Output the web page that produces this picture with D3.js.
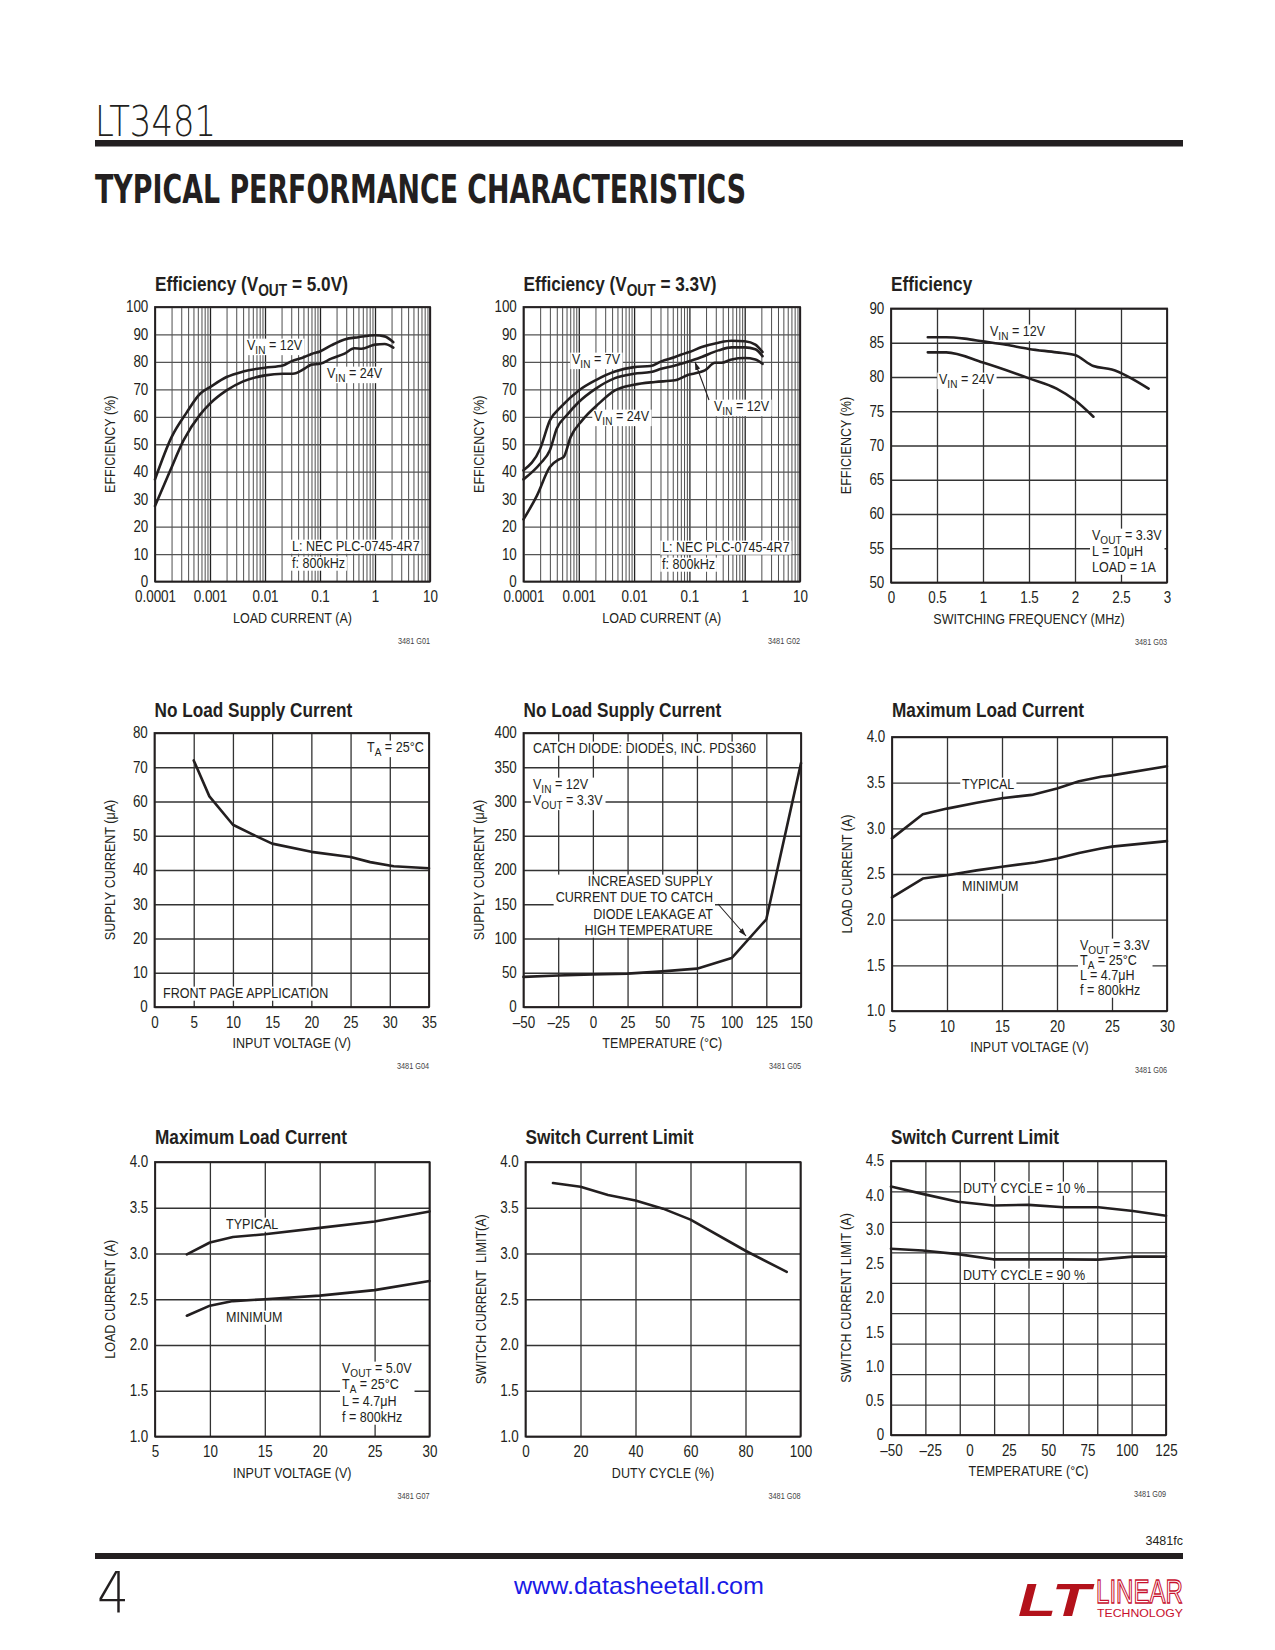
<!DOCTYPE html>
<html><head><meta charset="utf-8">
<script src="https://cdn.jsdelivr.net/npm/d3@7/dist/d3.min.js"></script>
<style>
html,body{margin:0;padding:0;background:#fff;}
svg{display:block;}
text{font-family:"Liberation Sans",Arial,sans-serif;}
</style></head><body>
<svg id="page" width="1275" height="1650"></svg>
<script>
// ---------------- DATA ----------------
// Efficiency, VOUT = 5.0V (load current A, efficiency %)
const eff5_12V_current = [0.0001,0.0002,0.00038,0.00066,0.001,0.002,0.004,0.01,0.021,0.03,0.052,0.07,0.1,0.16,0.28,0.5,1,1.5,2.15];
const eff5_12V_eff     = [37.2,52.6,61.7,68.4,70.8,74.5,76.5,77.9,78.7,80.2,81.8,82.9,83.8,86,88.2,89,89.7,89.3,87.2];
const eff5_24V_current = [0.0001,0.00019,0.00033,0.00066,0.001,0.002,0.004,0.01,0.021,0.032,0.052,0.07,0.1,0.16,0.28,0.42,0.57,1,1.5,2.15];
const eff5_24V_eff     = [27.5,40.5,51.4,60.8,64.8,69.6,72.9,75.1,75.7,75.7,77.5,79,79.3,81.2,83,85,84.8,86.3,86.5,85.2];
// Efficiency, VOUT = 3.3V
const eff33_7V_current  = [0.0001,0.0002,0.0003,0.00047,0.001,0.002,0.0045,0.01,0.02,0.031,0.055,0.07,0.1,0.167,0.335,0.58,1,1.56,2.1];
const eff33_7V_eff      = [40.5,48.4,58.7,63.5,69.6,73.3,76.5,78.1,78.5,80.2,81.8,82.6,83.6,85.4,87,87.7,87.5,86.3,83.6];
const eff33_12V_current = [0.0001,0.0002,0.0003,0.0004,0.00062,0.001,0.002,0.0045,0.01,0.02,0.031,0.055,0.1,0.167,0.335,0.58,1,1.56,2.1];
const eff33_12V_eff     = [37.2,42.9,47.8,55.7,60.8,65.4,70.2,74.1,75.7,76.3,77.5,78.7,80.2,81.8,84.2,85.3,85.3,84.6,82.1];
const eff33_24V_current = [0.0001,0.000175,0.0003,0.00044,0.00053,0.00071,0.00115,0.0023,0.0045,0.01,0.024,0.055,0.096,0.145,0.19,0.29,0.38,0.58,1,1.56,2.1];
const eff33_24V_eff     = [22.6,31.3,41.7,44.5,45.3,52.6,58.7,64.8,69.6,71.7,72.7,73.3,75.3,76.1,76.9,79.7,79.7,80.9,81.4,80.9,79.3];
// Efficiency vs switching frequency (MHz)
const effF_12V_freq = [0.4,0.6,0.8,1.0,1.25,1.5,1.8,2.0,2.2,2.4,2.8];
const effF_12V_eff  = [85.8,85.8,85.6,85.2,84.7,84.1,83.6,83.2,81.6,81.1,78.3];
const effF_24V_freq = [0.4,0.6,1.0,1.5,1.8,2.0,2.2];
const effF_24V_eff  = [83.6,83.6,82.1,79.8,78.3,76.6,74.2];
// No load supply current vs input voltage
const nlVin_voltage = [5,7,10,12.5,15,20,25,27.5,30.5,35];
const nlVin_current = [72,61.5,53.2,50.4,47.7,45.3,43.8,42.3,41.1,40.5];
// No load supply current vs temperature
const nlTemp_temp    = [-50,-25,0,25,50,75,100,125,150];
const nlTemp_current = [44,46,47.7,48.7,52,56,71.5,128,356];
// Maximum load current, VOUT = 3.3V
const mlc33_vin     = [5,7.8,10,12.7,15,17.7,20,22,24,25,30];
const mlc33_typical = [2.89,3.155,3.216,3.28,3.33,3.366,3.435,3.515,3.565,3.58,3.68];
const mlc33_vinMin  = [5,7.8,10,12.7,15,18,20,22,24,25,30];
const mlc33_minimum = [2.243,2.45,2.487,2.54,2.58,2.626,2.67,2.73,2.78,2.8,2.86];
// Maximum load current, VOUT = 5.0V
const mlc5_vin     = [7.9,10,12.1,15,20,25,30];
const mlc5_typical = [2.99,3.12,3.18,3.21,3.28,3.35,3.46];
const mlc5_minimum = [2.32,2.43,2.48,2.50,2.54,2.60,2.70];
// Switch current limit vs duty cycle
const sclDuty_duty  = [10,20,30,40,50,60,80,95];
const sclDuty_limit = [3.77,3.73,3.64,3.58,3.49,3.37,3.03,2.80];
// Switch current limit vs temperature
const sclTemp_temp = [-50,-30,-7.5,15,37.5,60,82,104,125];
const sclTemp_dc10 = [4.08,3.96,3.83,3.77,3.78,3.74,3.74,3.68,3.60];
const sclTemp_dc90 = [3.06,3.03,2.97,2.885,2.885,2.885,2.88,2.93,2.93];

// Tick labels
const loadTicks = [0.0001,0.001,0.01,0.1,1,10];
const loadTickLabels = ["0.0001","0.001","0.01","0.1","1","10"];
const effTicks = d3.range(0,101,10);
const effTickLabels = effTicks.map(String);
const freqTicks = [0,0.5,1,1.5,2,2.5,3];
const freqTickLabels = ["0","0.5","1","1.5","2","2.5","3"];
const effFTicks = [50,55,60,65,70,75,80,85,90];
const effFTickLabels = effFTicks.map(String);
const vin35Ticks = [0,5,10,15,20,25,30,35];
const vin35TickLabels = vin35Ticks.map(String);
const supplyTicks = [0,10,20,30,40,50,60,70,80];
const supplyTickLabels = supplyTicks.map(String);
const temp150Ticks = [-50,-25,0,25,50,75,100,125,150];
const temp150TickLabels = ["–50","–25","0","25","50","75","100","125","150"];
const supply400Ticks = [0,50,100,150,200,250,300,350,400];
const supply400TickLabels = supply400Ticks.map(String);
const vin30Ticks = [5,10,15,20,25,30];
const vin30TickLabels = vin30Ticks.map(String);
const amp4Ticks = [1,1.5,2,2.5,3,3.5,4];
const amp4TickLabels = ["1.0","1.5","2.0","2.5","3.0","3.5","4.0"];
const dutyTicks = [0,20,40,60,80,100];
const dutyTickLabels = dutyTicks.map(String);
const temp125Ticks = [-50,-25,0,25,50,75,100,125];
const temp125TickLabels = ["–50","–25","0","25","50","75","100","125"];
const scl9TickLabels = ["0","0.5","1.0","1.5","2.0","2.5","3.0","4.0","4.5"];

// ---------------- DRAWING ----------------
const INK = "#231f20";
const NARROW = 0.86;
const svg = d3.select("#page");
const defs = svg.append("defs");
defs.append("marker").attr("id","arr").attr("viewBox","0 0 10 10")
  .attr("refX",10).attr("refY",5).attr("markerWidth",8).attr("markerHeight",8)
  .attr("orient","auto").attr("markerUnits","userSpaceOnUse")
  .append("path").attr("d","M0,1.8 L10,5 L0,8.2 z").attr("fill",INK);

function rich(parent, str, x, y, o) {
  o = o || {};
  const size = o.size || 14.6;
  const wrap = parent.append("g").attr("transform",
    `translate(${x},${y})` + (o.rotate ? ` rotate(${o.rotate})` : "") + ` scale(${NARROW},1)`);
  const t = wrap.append("text").attr("x", 0).attr("y", o.dy || 0).attr("font-size", size)
    .attr("text-anchor", o.anchor || "start").attr("fill", o.fill || INK);
  if (o.weight) t.attr("font-weight", o.weight);
  const parts = str.split(/(_\{[^}]*\})/).filter(s => s.length);
  let down = false;
  parts.forEach(p => {
    if (p.startsWith("_{")) {
      t.append("tspan").attr("dy", size*0.24).attr("font-size", size*0.8).text(p.slice(2,-1));
      down = true;
    } else {
      const ts = t.append("tspan").text(p);
      if (down) { ts.attr("dy", -size*0.24); down = false; }
    }
  });
  if (o.bg) {
    const b = t.node().getBBox();
    wrap.insert("rect", "text").attr("x", b.x-2).attr("y", b.y+1.5)
      .attr("width", b.width+4).attr("height", b.height-2).attr("fill","#fff");
  }
  return t;
}

function isDecade(d){ const l = Math.log10(d); return Math.abs(l-Math.round(l))<1e-6; }

function drawChart(c) {
  const g = svg.append("g");
  const x = (c.xLog ? d3.scaleLog() : d3.scaleLinear()).domain(c.xDomain).range([c.L, c.R]);
  const y = d3.scaleLinear().domain(c.yDomain).range([c.B, c.T]);
  const W = c.R - c.L, H = c.B - c.T;
  // grid
  const gx = g.append("g").attr("transform",`translate(0,${c.B})`)
    .call(d3.axisBottom(x).tickValues(c.xGrid).tickSize(-H).tickFormat(""));
  gx.select(".domain").remove();
  gx.selectAll(".tick line")
    .attr("stroke", d => c.xLog ? (isDecade(d) ? "#222" : "#3a3a3a") : "#333")
    .attr("stroke-width", d => c.xLog ? (isDecade(d) ? 1.3 : 0.9) : 1.3);
  const gy = g.append("g").attr("transform",`translate(${c.L},0)`)
    .call(d3.axisLeft(y).tickValues(c.yGrid).tickSize(-W).tickFormat(""));
  gy.select(".domain").remove();
  gy.selectAll(".tick line").attr("stroke", c.xLog ? "#555" : "#333").attr("stroke-width", 1.3);
  // notes (single labels get their own white box, blocks share one box)
  const bgLayer = g.append("g");
  const noteLayer = g.append("g");
  const blocks = {};
  (c.notes || []).forEach(n => {
    const t = rich(noteLayer, n.t, n.x, n.y, {anchor: n.a, bg: !n.b});
    if (n.b) (blocks[n.b] = blocks[n.b] || []).push(t.node());
  });
  Object.values(blocks).forEach(nodes => {
    const rs = nodes.map(nd => nd.getBoundingClientRect());
    const x0 = d3.min(rs, r => r.left) - 2, x1 = d3.max(rs, r => r.right) + 2;
    const y0 = d3.min(rs, r => r.top) + 1.5, y1 = d3.max(rs, r => r.bottom) - 0.5;
    bgLayer.append("rect").attr("x", x0).attr("y", y0).attr("width", x1 - x0).attr("height", y1 - y0).attr("fill", "#fff");
  });
  (c.arrows || []).forEach(a => g.append("line").attr("x1",a[0]).attr("y1",a[1]).attr("x2",a[2]).attr("y2",a[3])
    .attr("stroke",INK).attr("stroke-width",1.1).attr("marker-end","url(#arr)"));
  // series
  const line = d3.line().x(d => x(d[0])).y(d => y(d[1]))
    .curve(c.smooth ? d3.curveMonotoneX : d3.curveLinear);
  c.series.forEach(s => g.append("path").datum(d3.zip(s[0], s[1])).attr("d", line)
    .attr("fill","none").attr("stroke",INK).attr("stroke-width",2.6)
    .attr("stroke-linejoin","round").attr("stroke-linecap","round"));
  // frame
  g.append("rect").attr("x",c.L).attr("y",c.T).attr("width",W).attr("height",H)
    .attr("fill","none").attr("stroke",INK).attr("stroke-width",1.8);
  // tick labels
  const ax = g.append("g").attr("transform",`translate(0,${c.B})`)
    .call(d3.axisBottom(x).tickValues(c.xTicks).tickFormat((d,i) => c.xLabels[i]).tickSize(0).tickPadding(9.5));
  ax.select(".domain").remove();
  ax.selectAll("text").attr("font-size",15.6).attr("fill",INK).attr("transform",`scale(${NARROW},1)`);
  const ay = g.append("g").attr("transform",`translate(${c.L},0)`)
    .call(d3.axisLeft(y).tickValues(c.yTicks).tickFormat((d,i) => c.yLabels[i]).tickSize(0).tickPadding(7.8));
  ay.select(".domain").remove();
  ay.selectAll("text").attr("font-size",15.6).attr("fill",INK).attr("transform",`scale(${NARROW},1)`);
  // titles
  rich(g, c.title, c.L, c.titleY, {size: 20, weight: "bold"});
  rich(g, c.xTitle, (c.L + c.R)/2, c.B + 41, {anchor: "middle"});
  rich(g, c.yTitle, c.L - 45, (c.T + c.B)/2, {anchor: "middle", rotate: -90, dy: 5});
  rich(g, c.code, c.R, c.B + 62, {anchor: "end", size: 8.5, fill: "#444"});
}

const logGrid = [];
for (let n = -4; n <= 0; n++) for (let k = 1; k <= 9; k++) logGrid.push(+(k*Math.pow(10,n)).toPrecision(6));
logGrid.push(10);

const charts = [
  { L:155, R:430, T:307, B:581.5, titleY:291, title:"Efficiency (V_{OUT} = 5.0V)", code:"3481 G01",
    xLog:true, xDomain:[1e-4,10], yDomain:[0,100], xGrid:logGrid, yGrid:effTicks,
    xTicks:loadTicks, xLabels:loadTickLabels, yTicks:effTicks, yLabels:effTickLabels,
    xTitle:"LOAD CURRENT (A)", yTitle:"EFFICIENCY (%)", smooth:true,
    series:[[eff5_12V_current, eff5_12V_eff],[eff5_24V_current, eff5_24V_eff]],
    notes:[{t:"V_{IN} = 12V",x:247,y:350},{t:"V_{IN} = 24V",x:327,y:378},
           {t:"L: NEC PLC-0745-4R7",x:292,y:551},{t:"f: 800kHz",x:292,y:568}] },
  { L:523.5, R:800, T:307, B:581.5, titleY:291, title:"Efficiency (V_{OUT} = 3.3V)", code:"3481 G02",
    xLog:true, xDomain:[1e-4,10], yDomain:[0,100], xGrid:logGrid, yGrid:effTicks,
    xTicks:loadTicks, xLabels:loadTickLabels, yTicks:effTicks, yLabels:effTickLabels,
    xTitle:"LOAD CURRENT (A)", yTitle:"EFFICIENCY (%)", smooth:true,
    series:[[eff33_7V_current, eff33_7V_eff],[eff33_12V_current, eff33_12V_eff],[eff33_24V_current, eff33_24V_eff]],
    notes:[{t:"V_{IN} = 7V",x:572,y:364},{t:"V_{IN} = 24V",x:594,y:421},{t:"V_{IN} = 12V",x:714,y:411},
           {t:"L: NEC PLC-0745-4R7",x:662,y:552},{t:"f: 800kHz",x:662,y:569}],
    arrows:[[709,400,695,362]] },
  { L:891, R:1167, T:308.5, B:582.5, titleY:291, title:"Efficiency", code:"3481 G03",
    xDomain:[0,3], yDomain:[50,90], xGrid:freqTicks, yGrid:effFTicks,
    xTicks:freqTicks, xLabels:freqTickLabels, yTicks:effFTicks, yLabels:effFTickLabels,
    xTitle:"SWITCHING FREQUENCY (MHz)", yTitle:"EFFICIENCY (%)", smooth:true,
    series:[[effF_12V_freq, effF_12V_eff],[effF_24V_freq, effF_24V_eff]],
    notes:[{t:"V_{IN} = 12V",x:990,y:336},{t:"V_{IN} = 24V",x:939,y:384},
           {t:"V_{OUT} = 3.3V",x:1092,y:540,b:1},{t:"L = 10μH",x:1092,y:556,b:1},{t:"LOAD = 1A",x:1092,y:572,b:1}] },
  { L:154.5, R:429, T:733, B:1007, titleY:717, title:"No Load Supply Current", code:"3481 G04",
    xDomain:[0,35], yDomain:[0,80], xGrid:vin35Ticks, yGrid:supplyTicks,
    xTicks:vin35Ticks, xLabels:vin35TickLabels, yTicks:supplyTicks, yLabels:supplyTickLabels,
    xTitle:"INPUT VOLTAGE (V)", yTitle:"SUPPLY CURRENT (μA)",
    series:[[nlVin_voltage, nlVin_current]],
    notes:[{t:"T_{A} = 25°C",x:367,y:752},{t:"FRONT PAGE APPLICATION",x:163,y:998}] },
  { L:523.5, R:801, T:733, B:1007, titleY:717, title:"No Load Supply Current", code:"3481 G05",
    xDomain:[-50,150], yDomain:[0,400], xGrid:temp150Ticks, yGrid:supply400Ticks,
    xTicks:temp150Ticks, xLabels:temp150TickLabels, yTicks:supply400Ticks, yLabels:supply400TickLabels,
    xTitle:"TEMPERATURE (°C)", yTitle:"SUPPLY CURRENT (μA)",
    series:[[nlTemp_temp, nlTemp_current]],
    notes:[{t:"CATCH DIODE: DIODES, INC. PDS360",x:533,y:753},
           {t:"V_{IN} = 12V",x:533,y:789,b:1},{t:"V_{OUT} = 3.3V",x:533,y:805,b:1},
           {t:"INCREASED SUPPLY",x:713,y:886,a:"end",b:2},{t:"CURRENT DUE TO CATCH",x:713,y:902,a:"end",b:2},
           {t:"DIODE LEAKAGE AT",x:713,y:919,a:"end",b:2},{t:"HIGH TEMPERATURE",x:713,y:935,a:"end",b:2}],
    arrows:[[718,904,746,936]] },
  { L:892, R:1167, T:737, B:1011, titleY:717, title:"Maximum Load Current", code:"3481 G06",
    xDomain:[5,30], yDomain:[1,4], xGrid:vin30Ticks, yGrid:amp4Ticks,
    xTicks:vin30Ticks, xLabels:vin30TickLabels, yTicks:amp4Ticks, yLabels:amp4TickLabels,
    xTitle:"INPUT VOLTAGE (V)", yTitle:"LOAD CURRENT (A)",
    series:[[mlc33_vin, mlc33_typical],[mlc33_vinMin, mlc33_minimum]],
    notes:[{t:"TYPICAL",x:962,y:789},{t:"MINIMUM",x:962,y:891},
           {t:"V_{OUT} = 3.3V",x:1080,y:950,b:1},{t:"T_{A} = 25°C",x:1080,y:965,b:1},
           {t:"L = 4.7μH",x:1080,y:980,b:1},{t:"f = 800kHz",x:1080,y:995,b:1}] },
  { L:155, R:429.5, T:1162, B:1436.5, titleY:1144, title:"Maximum Load Current", code:"3481 G07",
    xDomain:[5,30], yDomain:[1,4], xGrid:vin30Ticks, yGrid:amp4Ticks,
    xTicks:vin30Ticks, xLabels:vin30TickLabels, yTicks:amp4Ticks, yLabels:amp4TickLabels,
    xTitle:"INPUT VOLTAGE (V)", yTitle:"LOAD CURRENT (A)",
    series:[[mlc5_vin, mlc5_typical],[mlc5_vin, mlc5_minimum]],
    notes:[{t:"TYPICAL",x:226,y:1229},{t:"MINIMUM",x:226,y:1322},
           {t:"V_{OUT} = 5.0V",x:342,y:1373,b:1},{t:"T_{A} = 25°C",x:342,y:1389,b:1},
           {t:"L = 4.7μH",x:342,y:1406,b:1},{t:"f = 800kHz",x:342,y:1422,b:1}] },
  { L:525.5, R:800.5, T:1162, B:1436.5, titleY:1144, title:"Switch Current Limit", code:"3481 G08",
    xDomain:[0,100], yDomain:[1,4], xGrid:dutyTicks, yGrid:amp4Ticks,
    xTicks:dutyTicks, xLabels:dutyTickLabels, yTicks:amp4Ticks, yLabels:amp4TickLabels,
    xTitle:"DUTY CYCLE (%)", yTitle:"SWITCH CURRENT\u00A0 LIMIT(A)",
    series:[[sclDuty_duty, sclDuty_limit]], notes:[] },
  { L:891, R:1166, T:1161, B:1435, titleY:1144, title:"Switch Current Limit", code:"3481 G09",
    xDomain:[-50,125], yDomain:[0,4.5],
    xGrid:d3.range(9).map(i => -50 + i*175/8), yGrid:d3.range(10).map(i => i*0.5),
    xTicks:temp125Ticks, xLabels:temp125TickLabels,
    yTicks:d3.range(9).map(i => i*4.5/8), yLabels:scl9TickLabels,
    xTitle:"TEMPERATURE (°C)", yTitle:"SWITCH CURRENT LIMIT (A)",
    series:[[sclTemp_temp, sclTemp_dc10],[sclTemp_temp, sclTemp_dc90]],
    notes:[{t:"DUTY CYCLE = 10 %",x:963,y:1193},{t:"DUTY CYCLE = 90 %",x:963,y:1280}] }
];
charts.forEach(drawChart);

// ---------------- PAGE HEADER / FOOTER ----------------
svg.append("text").attr("x",95).attr("y",136).attr("font-size",43)
  .style("font-family","'DejaVu Sans'").attr("font-weight",200).attr("fill",INK)
  .attr("textLength",121).attr("lengthAdjust","spacingAndGlyphs").text("LT3481");
svg.append("rect").attr("x",95).attr("y",140).attr("width",1088).attr("height",6.5).attr("fill",INK);
svg.append("text").attr("x",95).attr("y",203).attr("font-size",39)
  .style("font-family","'DejaVu Sans'").attr("font-weight","bold").attr("fill",INK)
  .attr("textLength",651).attr("lengthAdjust","spacingAndGlyphs").text("TYPICAL PERFORMANCE CHARACTERISTICS");

svg.append("text").attr("x",1183).attr("y",1545).attr("text-anchor","end").attr("font-size",12.5)
  .attr("fill",INK).text("3481fc");
svg.append("rect").attr("x",95).attr("y",1553).attr("width",1088).attr("height",6).attr("fill",INK);
svg.append("text").attr("x",97).attr("y",1613).attr("font-size",57)
  .style("font-family","'DejaVu Sans'").attr("font-weight",200).attr("fill",INK)
  .attr("textLength",32).attr("lengthAdjust","spacingAndGlyphs").text("4");
svg.append("text").attr("x",639).attr("y",1594).attr("text-anchor","middle").attr("font-size",24)
  .attr("fill","#1a1ae6")
  .attr("textLength",250).attr("lengthAdjust","spacingAndGlyphs").text("www.datasheetall.com");
// logo
svg.append("text").attr("x",1018).attr("y",1616).attr("font-size",46)
  .attr("font-weight","bold").attr("font-style","italic")
  .attr("fill","#b3121b").attr("textLength",72).attr("lengthAdjust","spacingAndGlyphs").text("LT");
svg.append("text").attr("x",1096).attr("y",1603).attr("font-size",33)
  .attr("fill","none").attr("stroke","#c8102e").attr("stroke-width",1.3)
  .attr("textLength",87).attr("lengthAdjust","spacingAndGlyphs").text("LINEAR");
svg.append("text").attr("x",1097).attr("y",1617).attr("font-size",11)
  .attr("fill","#c8102e").attr("textLength",86).attr("lengthAdjust","spacingAndGlyphs").text("TECHNOLOGY");
</script>
</body></html>
